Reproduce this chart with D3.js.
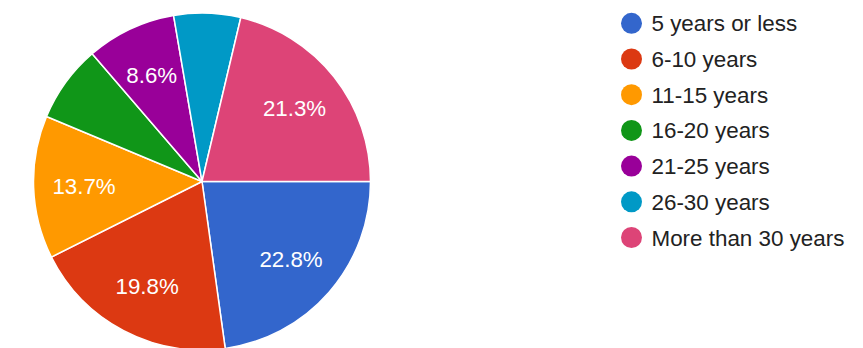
<!DOCTYPE html>
<html>
<head>
<meta charset="utf-8">
<script src="https://cdn.jsdelivr.net/npm/d3@7"></script>
<style>
  html, body { margin: 0; padding: 0; background: #ffffff; }
  svg { display: block; font-family: "Liberation Sans", Arial, sans-serif; }
</style>
</head>
<body>
<svg id="chart" width="863" height="348"></svg>
<script>
// Years of experience distribution
const categories = ["5 years or less", "6-10 years", "11-15 years", "16-20 years", "21-25 years", "26-30 years", "More than 30 years"];
const shares = [22.8, 19.8, 13.7, 7.4, 8.6, 6.4, 21.3];
const colors = ["#3366cc", "#dc3912", "#ff9900", "#109618", "#990099", "#0099c6", "#dd4477"];
// Slices below this share carry no percentage label
const labelMin = 8;

const svg = d3.select("#chart");
const cx = 202, cy = 181.5, radius = 168.5;

const data = categories.map((c, i) => ({ name: c, value: shares[i], color: colors[i] }));

// Slices run clockwise from 3 o'clock
const pie = d3.pie()
  .value(d => d.value)
  .sort(null)
  .startAngle(Math.PI / 2)
  .endAngle(Math.PI / 2 + 2 * Math.PI);

const arc = d3.arc().innerRadius(0).outerRadius(radius);
const labelArc = d3.arc().innerRadius(118).outerRadius(118);

const g = svg.append("g").attr("transform", `translate(${cx},${cy})`);
const arcs = pie(data);

g.selectAll("path.slice")
  .data(arcs)
  .join("path")
  .attr("class", "slice")
  .attr("d", arc)
  .attr("fill", d => d.data.color)
  .attr("stroke", "#ffffff")
  .attr("stroke-width", 1.5)
  .attr("stroke-linejoin", "round");

g.selectAll("text.pct")
  .data(arcs.filter(d => d.data.value >= labelMin))
  .join("text")
  .attr("class", "pct")
  .attr("transform", d => `translate(${labelArc.centroid(d)})`)
  .attr("text-anchor", "middle")
  .attr("dy", "0.36em")
  .attr("fill", "#ffffff")
  .attr("font-size", 22.3)
  .text(d => d.data.value.toFixed(1) + "%");

// Legend
const legendY = d3.scalePoint().domain(categories).range([23.3, 237.5]);
const legend = svg.append("g");
const rows = legend.selectAll("g.row")
  .data(data)
  .join("g")
  .attr("class", "row")
  .attr("transform", d => `translate(631.5,${legendY(d.name)})`);

rows.append("circle")
  .attr("r", 10.5)
  .attr("fill", d => d.color);

rows.append("text")
  .attr("x", 20)
  .attr("dy", "0.36em")
  .attr("font-size", 22.4)
  .attr("fill", "#222222")
  .text(d => d.name);
</script>
</body>
</html>
